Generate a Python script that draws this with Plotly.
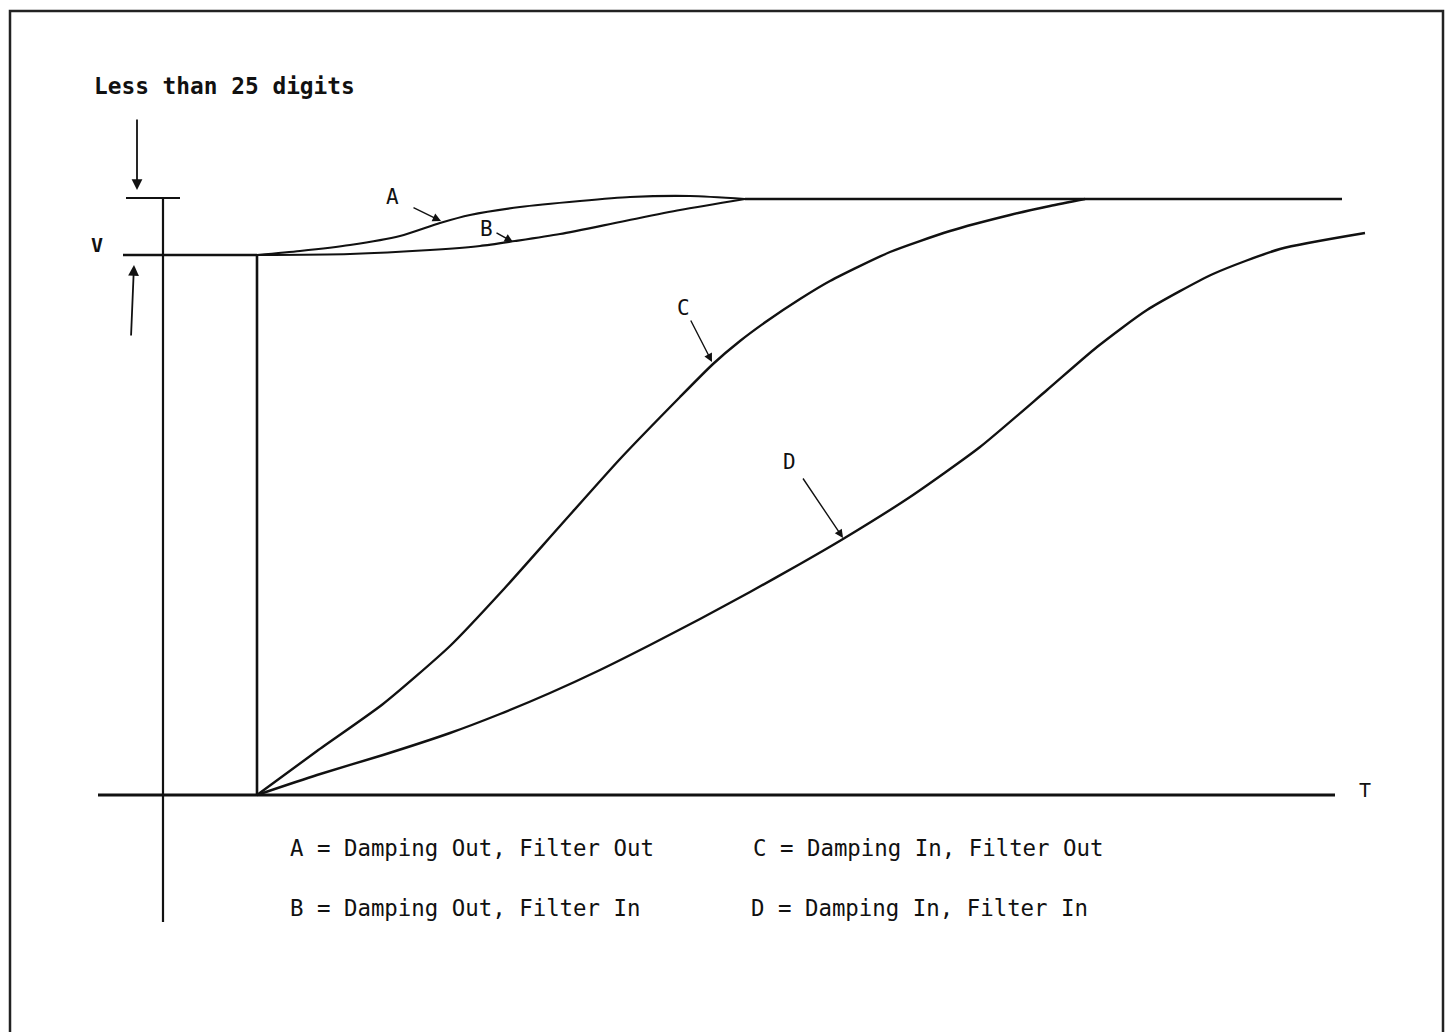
import plotly.graph_objects as go

# ---- data (time units t, value units v) ----
step_level = 540          # V level reached by the instantaneous step
final_level = 596         # settled value (V + less than 25 digits)

a_t = [0, 43, 93, 143, 183, 213, 263, 323, 373, 433, 488]
a_v = [540, 544, 550, 559, 572, 580, 588, 594, 598, 599, 596]

b_t = [0, 93, 173, 223, 258, 303, 363, 423, 488]
b_v = [540, 541, 545, 549, 554, 561, 573, 585, 596]

c_t = [0, 60, 126, 193, 246, 303, 363, 423, 456, 483, 510, 543, 573, 633, 693, 753, 793, 828]
c_v = [0, 44, 91, 149, 205, 269, 336, 398, 431, 454, 474, 496, 514, 543, 564, 580, 589, 596]

d_t = [0, 60, 126, 193, 243, 293, 343, 393, 443, 493, 543, 586, 653, 723, 790,
       840, 890, 956, 1023, 1108]
d_v = [0, 20, 40, 62, 81, 102, 125, 150, 176, 203, 231, 256, 298, 348, 405,
       448, 485, 521, 546, 562]

top_t = [488, 1085]
top_v = [final_level, final_level]

axis_t = [-159, 1078]
axis_v = [0, 0]

step_t = [0, 0]
step_v = [0, step_level]

vline_t = [-134, 0]
vline_v = [step_level, step_level]

tick_t = [-131, -77]
tick_v = [597, 597]

ref_t = [-94, -94]
ref_v = [597, -127]

legend_lines = [
    "A = Damping Out, Filter Out",
    "C = Damping In, Filter Out",
    "B = Damping Out, Filter In",
    "D = Damping In, Filter In",
]
curve_labels = ["A", "B", "C", "D"]

# ---- figure ----
BLACK = "#111111"
fig = go.Figure()

def line(t, v, w=2.4, shape="linear", smooth=0.6):
    fig.add_trace(go.Scatter(x=t, y=v, mode="lines",
                             line=dict(color=BLACK, width=w, shape=shape, smoothing=smooth),
                             hoverinfo="skip", showlegend=False))

line(axis_t, axis_v, w=3.2)
line(ref_t, ref_v, w=2.2)
line(tick_t, tick_v, w=2.2)
line(vline_t, vline_v, w=2.4)
line(step_t, step_v, w=2.6)
line(top_t, top_v, w=2.4)
line(a_t, a_v, w=2.2, shape="spline", smooth=0.7)
line(b_t, b_v, w=2.2, shape="spline", smooth=0.7)
line(c_t, c_v, w=2.4, shape="spline")
line(d_t, d_v, w=2.4, shape="spline")

FONT = "DejaVu Sans Mono"
ann = []

def text(t, v, s, size=22, anchor="left", bold=False):
    ann.append(dict(x=t, y=v, xref="x", yref="y", text=(f"<b>{s}</b>" if bold else s),
                    showarrow=False, xanchor=anchor, yanchor="middle",
                    font=dict(family=FONT, size=size, color=BLACK)))

def arrow(t0, v0, t1, v1, w=1.4, head=2):
    ann.append(dict(x=t1, y=v1, ax=t0, ay=v0, xref="x", yref="y", axref="x", ayref="y",
                    text="", showarrow=True, arrowhead=head, arrowsize=1.2,
                    arrowwidth=w, arrowcolor=BLACK, standoff=0, startstandoff=0))

text(-165, 709, "Less than 25 digits", size=22.8, bold=True)
text(-160, 550, "V", size=20, anchor="center", bold=True)
text(1108, 5, "T", size=20, anchor="center")

label_pos = {"A": (135, 598), "B": (229, 566), "C": (426, 487), "D": (532, 333)}
for lab in curve_labels:
    t, v = label_pos[lab]
    text(t, v, lab, size=21, anchor="center")

arrow(155, 588, 184, 574)
arrow(238, 563, 256, 553)
arrow(433, 476, 455, 433)
arrow(545, 318, 586, 257)
arrow(-120, 677, -120, 605, w=1.8)
arrow(-126, 458, -123, 530, w=1.8)

leg_pos = [(31, -53), (494, -53), (31, -113), (492, -113)]
for s, (t, v) in zip(legend_lines, leg_pos):
    text(t, v, s, size=22.4)

fig.update_layout(
    width=1449, height=1032,
    margin=dict(l=0, r=0, t=0, b=0),
    paper_bgcolor="white", plot_bgcolor="white",
    xaxis=dict(range=[-257, 1192], visible=False, fixedrange=True),
    yaxis=dict(range=[-237, 795], visible=False, fixedrange=True),
    annotations=ann,
    shapes=[dict(type="rect", xref="x", yref="y", x0=-247, x1=1186, y0=-260, y1=784,
                 line=dict(color="#222222", width=2.5), fillcolor="rgba(0,0,0,0)")],
)

fig.write_html("out.html", config={"displayModeBar": False},
               post_script="document.body.style.margin='0';")
